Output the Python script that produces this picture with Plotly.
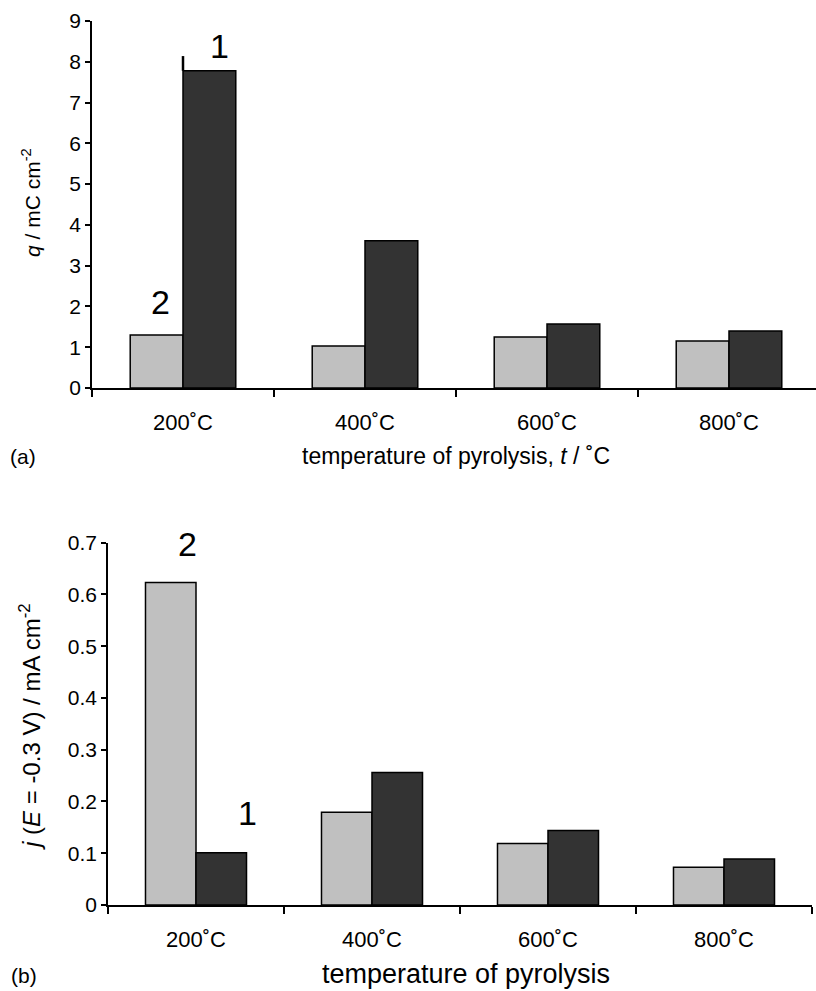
import plotly.graph_objects as go

categories = ["200˚C", "400˚C", "600˚C", "800˚C"]
xpos = [0, 1, 2, 3]
# panel (a): charge q / mC cm-2
q_series2 = [1.30, 1.03, 1.25, 1.15]   # light grey, curve 2
q_series1 = [7.78, 3.61, 1.57, 1.40]   # dark, curve 1
q_artifact_top = 8.14                  # small line on left edge of first dark bar
# panel (b): current density j / mA cm-2
j_series2 = [0.623, 0.179, 0.119, 0.073]
j_series1 = [0.101, 0.256, 0.144, 0.089]

W, H = 816, 991
LIGHT = "#c0c0c0"
DARK = "#333333"
FONT = "Liberation Sans, Arial, Helvetica, sans-serif"

fig = go.Figure()

def px_x(p):
    return p / W

def px_y(p):
    return 1 - p / H

bw_a = 0.29
bw_b = 0.287
line = dict(color="black", width=1.5)

fig.add_trace(go.Bar(x=xpos, y=q_series2, width=bw_a, offset=-bw_a, marker=dict(color=LIGHT, line=line),
                     xaxis="x", yaxis="y", showlegend=False))
fig.add_trace(go.Bar(x=xpos, y=q_series1, width=bw_a, offset=0, marker=dict(color=DARK, line=line),
                     xaxis="x", yaxis="y", showlegend=False))
fig.add_trace(go.Scatter(x=[xpos[0], xpos[0]], y=[q_series1[0], q_artifact_top], mode="lines",
                         line=dict(color="black", width=2.5), xaxis="x", yaxis="y", showlegend=False))

fig.add_trace(go.Bar(x=xpos, y=j_series2, width=bw_b, offset=-bw_b, marker=dict(color=LIGHT, line=line),
                     xaxis="x2", yaxis="y2", showlegend=False))
fig.add_trace(go.Bar(x=xpos, y=j_series1, width=bw_b, offset=0, marker=dict(color=DARK, line=line),
                     xaxis="x2", yaxis="y2", showlegend=False))

xcommon = dict(
    tickmode="array", tickvals=xpos, ticktext=categories, ticks="",
    showline=True, linecolor="black", linewidth=1.5, showgrid=False, zeroline=False,
    tickfont=dict(family=FONT, size=22, color="black"), ticklabelstandoff=14,
    minor=dict(ticks="outside", tick0=0.5, dtick=1, ticklen=7, tickwidth=1.5, tickcolor="black", showgrid=False),
    automargin=False, fixedrange=True,
)
ycommon = dict(
    showline=True, linecolor="black", linewidth=1.5, showgrid=False, zeroline=False,
    ticks="outside", ticklen=5, tickwidth=1.5, tickcolor="black",
    tickfont=dict(family=FONT, size=21, color="black"), automargin=False,
)

fig.update_layout(
    width=W, height=H,
    margin=dict(l=0, r=0, t=0, b=0),
    paper_bgcolor="white", plot_bgcolor="white",
    barmode="overlay",
    xaxis=dict(xcommon, domain=[px_x(92), 1.0], range=[-0.5, 3.478], anchor="y"),
    yaxis=dict(ycommon, domain=[px_y(388), px_y(21)], range=[0, 9], dtick=1, anchor="x"),
    xaxis2=dict(xcommon, domain=[px_x(108), px_x(812)], range=[-0.5, 3.5], anchor="y2"),
    yaxis2=dict(ycommon, domain=[px_y(905), px_y(542.7)], range=[0, 0.7], anchor="x2",
                tickmode="array", tickvals=[0, 0.1, 0.2, 0.3, 0.4, 0.5, 0.6, 0.7],
                ticktext=["0", "0.1", "0.2", "0.3", "0.4", "0.5", "0.6", "0.7"]),
    font=dict(family=FONT, color="black"),
)

ann = []
def label(text, x, y, size, xref="paper", yref="paper", angle=0):
    ann.append(dict(text=text, x=x, y=y, xref=xref, yref=yref, showarrow=False,
                    font=dict(family=FONT, size=size, color="black"), textangle=angle,
                    xanchor="center", yanchor="middle"))

# axis titles
label("<i>q</i> / mC cm<sup>-2</sup>", px_x(31), px_y(202), 21, angle=-90)
label("temperature of pyrolysis, <i>t</i> / ˚C", px_x(456), px_y(456), 23)
label("(a)", px_x(23), px_y(457), 21)
label("<i>j</i> (<i>E</i> = -0.3 V) / mA cm<sup>-2</sup>", px_x(30), px_y(727), 24, angle=-90)
label("temperature of pyrolysis", px_x(466), px_y(974), 27)
label("(b)", px_x(24), px_y(975), 21)

# curve numbers
label("1", 0.2, 8.38, 34, "x", "y")
label("2", -0.126, 2.1, 34, "x", "y")
label("2", -0.05, 0.697, 34, "x2", "y2")
label("1", 0.29, 0.178, 34, "x2", "y2")

fig.update_layout(annotations=ann)
fig.write_html("out.html")
